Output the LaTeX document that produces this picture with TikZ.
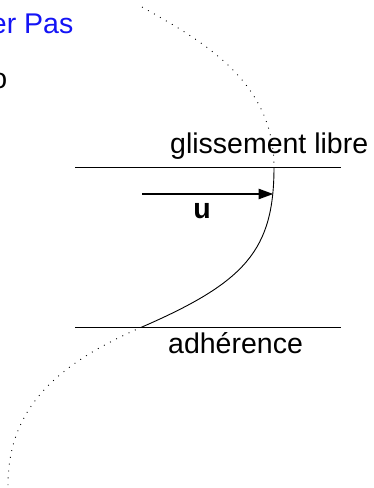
\documentclass[tikz,border=0pt]{standalone}
\usepackage{fontspec}
\setmainfont{Liberation Sans}
\usetikzlibrary{arrows.meta}
\definecolor{linkblue}{RGB}{20,20,245}
\begin{document}
\begin{tikzpicture}[x=1pt,y=-1pt,
  lbl/.style={inner sep=0pt, font=\fontsize{28.5}{30}\selectfont},
  wall/.style={line width=0.9pt},
  prof/.style={line width=0.9pt},
  ext/.style={line width=0.9pt, dash pattern=on 0.9pt off 6pt},
  vel/.style={line width=2.6pt, -{Triangle[length=15pt,width=10pt]}}]
\useasboundingbox (0,0) rectangle (374,488);
% texts
\node[lbl, text=linkblue, anchor=base east] (top) at (73.5,33) {er Pas};
\node[lbl, anchor=base east] (o) at (7.5,88) {o};
\node[lbl, anchor=base west] (gl) at (170,153) {glissement libre};
\node[lbl, anchor=base west] (ad) at (168,353) {adh\'erence};
\node[lbl, anchor=base, font=\fontsize{28.5}{30}\selectfont\bfseries] (u) at (202,218) {u};
% walls
\coordinate (tl) at (75,167);
\coordinate (tr) at (341,167);
\coordinate (bl) at (75,327);
\coordinate (br) at (341,327);
\draw[wall] (tl) -- (tr);
\draw[wall] (bl) -- (br);
% profile
\coordinate (p0) at (142,7);
\coordinate (p1) at (274,167);
\coordinate (p2) at (142,327);
\coordinate (p3) at (8,485);
\draw[ext] (p0) .. controls (200,40) and (274,80) .. (p1);
\draw[prof] (p1) .. controls (274,250) and (245.5,282) .. (p2);
\draw[ext] (p2) .. controls (61.5,362) and (8,405) .. (p3);
% velocity arrow
\coordinate (a0) at (142,194);
\coordinate (a1) at (273.5,194);
\draw[vel] (a0) -- (a1);
\end{tikzpicture}
\end{document}
